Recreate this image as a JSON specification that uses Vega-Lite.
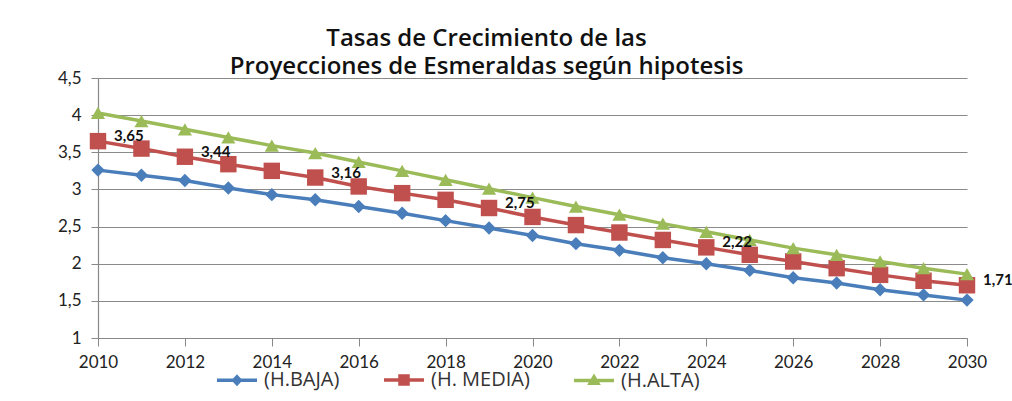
{
  "$schema": "https://vega.github.io/schema/vega-lite/v6.json",
  "width": 869,
  "height": 260,
  "autosize": {"type": "none"},
  "padding": {"left": 98, "top": 78, "right": 45, "bottom": 63},
  "background": "white",
  "title": {
    "text": ["Tasas  de Crecimiento de las", "Proyecciones de Esmeraldas según hipotesis"],
    "anchor": "middle",
    "dx": -46,
    "offset": -10,
    "font": "Open Sans",
    "fontSize": 24,
    "fontWeight": 600,
    "lineHeight": 28,
    "color": "#111"
  },
  "config": {
    "locale": {"number": {"decimal": ",", "thousands": ".", "grouping": [3], "currency": ["", "$"]}},
    "view": {"stroke": null},
    "font": "Lato"
  },
  "data": {
    "values": [
      {"year": 2010, "serie": "(H.BAJA)", "value": 3.26},
      {"year": 2011, "serie": "(H.BAJA)", "value": 3.19},
      {"year": 2012, "serie": "(H.BAJA)", "value": 3.12},
      {"year": 2013, "serie": "(H.BAJA)", "value": 3.02},
      {"year": 2014, "serie": "(H.BAJA)", "value": 2.93},
      {"year": 2015, "serie": "(H.BAJA)", "value": 2.86},
      {"year": 2016, "serie": "(H.BAJA)", "value": 2.77},
      {"year": 2017, "serie": "(H.BAJA)", "value": 2.68},
      {"year": 2018, "serie": "(H.BAJA)", "value": 2.58},
      {"year": 2019, "serie": "(H.BAJA)", "value": 2.48},
      {"year": 2020, "serie": "(H.BAJA)", "value": 2.38},
      {"year": 2021, "serie": "(H.BAJA)", "value": 2.27},
      {"year": 2022, "serie": "(H.BAJA)", "value": 2.18},
      {"year": 2023, "serie": "(H.BAJA)", "value": 2.08},
      {"year": 2024, "serie": "(H.BAJA)", "value": 2.00},
      {"year": 2025, "serie": "(H.BAJA)", "value": 1.91},
      {"year": 2026, "serie": "(H.BAJA)", "value": 1.81},
      {"year": 2027, "serie": "(H.BAJA)", "value": 1.74},
      {"year": 2028, "serie": "(H.BAJA)", "value": 1.65},
      {"year": 2029, "serie": "(H.BAJA)", "value": 1.58},
      {"year": 2030, "serie": "(H.BAJA)", "value": 1.51},
      {"year": 2010, "serie": "(H. MEDIA)", "value": 3.65, "lab": true},
      {"year": 2011, "serie": "(H. MEDIA)", "value": 3.55},
      {"year": 2012, "serie": "(H. MEDIA)", "value": 3.44, "lab": true},
      {"year": 2013, "serie": "(H. MEDIA)", "value": 3.34},
      {"year": 2014, "serie": "(H. MEDIA)", "value": 3.25},
      {"year": 2015, "serie": "(H. MEDIA)", "value": 3.16, "lab": true},
      {"year": 2016, "serie": "(H. MEDIA)", "value": 3.04},
      {"year": 2017, "serie": "(H. MEDIA)", "value": 2.95},
      {"year": 2018, "serie": "(H. MEDIA)", "value": 2.86},
      {"year": 2019, "serie": "(H. MEDIA)", "value": 2.75, "lab": true},
      {"year": 2020, "serie": "(H. MEDIA)", "value": 2.63},
      {"year": 2021, "serie": "(H. MEDIA)", "value": 2.52},
      {"year": 2022, "serie": "(H. MEDIA)", "value": 2.42},
      {"year": 2023, "serie": "(H. MEDIA)", "value": 2.32},
      {"year": 2024, "serie": "(H. MEDIA)", "value": 2.22, "lab": true},
      {"year": 2025, "serie": "(H. MEDIA)", "value": 2.12},
      {"year": 2026, "serie": "(H. MEDIA)", "value": 2.03},
      {"year": 2027, "serie": "(H. MEDIA)", "value": 1.94},
      {"year": 2028, "serie": "(H. MEDIA)", "value": 1.85},
      {"year": 2029, "serie": "(H. MEDIA)", "value": 1.77},
      {"year": 2030, "serie": "(H. MEDIA)", "value": 1.71, "lab": true},
      {"year": 2010, "serie": "(H.ALTA)", "value": 4.03},
      {"year": 2011, "serie": "(H.ALTA)", "value": 3.92},
      {"year": 2012, "serie": "(H.ALTA)", "value": 3.81},
      {"year": 2013, "serie": "(H.ALTA)", "value": 3.70},
      {"year": 2014, "serie": "(H.ALTA)", "value": 3.59},
      {"year": 2015, "serie": "(H.ALTA)", "value": 3.49},
      {"year": 2016, "serie": "(H.ALTA)", "value": 3.37},
      {"year": 2017, "serie": "(H.ALTA)", "value": 3.25},
      {"year": 2018, "serie": "(H.ALTA)", "value": 3.13},
      {"year": 2019, "serie": "(H.ALTA)", "value": 3.01},
      {"year": 2020, "serie": "(H.ALTA)", "value": 2.89},
      {"year": 2021, "serie": "(H.ALTA)", "value": 2.77},
      {"year": 2022, "serie": "(H.ALTA)", "value": 2.66},
      {"year": 2023, "serie": "(H.ALTA)", "value": 2.54},
      {"year": 2024, "serie": "(H.ALTA)", "value": 2.43},
      {"year": 2025, "serie": "(H.ALTA)", "value": 2.32},
      {"year": 2026, "serie": "(H.ALTA)", "value": 2.21},
      {"year": 2027, "serie": "(H.ALTA)", "value": 2.12},
      {"year": 2028, "serie": "(H.ALTA)", "value": 2.03},
      {"year": 2029, "serie": "(H.ALTA)", "value": 1.94},
      {"year": 2030, "serie": "(H.ALTA)", "value": 1.86}
    ]
  },
  "encoding": {
    "x": {
      "field": "year", "type": "quantitative",
      "scale": {"domain": [2010, 2030], "nice": false, "zero": false},
      "axis": {
        "title": null, "format": "d", "values": [2010, 2012, 2014, 2016, 2018, 2020, 2022, 2024, 2026, 2028, 2030],
        "grid": false, "domainColor": "#888", "domainWidth": 1.2, "tickColor": "#888", "tickSize": 8,
        "labelFont": "Lato", "labelFontSize": 17, "labelColor": "#222", "labelPadding": 8,
        "labelFlush": false
      }
    },
    "y": {
      "field": "value", "type": "quantitative",
      "scale": {"domain": [1, 4.5], "nice": false, "zero": false},
      "axis": {
        "title": null, "format": ".1~f", "values": [1, 1.5, 2, 2.5, 3, 3.5, 4, 4.5],
        "grid": true, "gridColor": "#8a8a8a", "gridWidth": 1.2,
        "domainColor": "#888", "domainWidth": 1.2, "tickColor": "#888", "tickSize": 7,
        "labelFont": "Lato", "labelFontSize": 17, "labelColor": "#222", "labelPadding": 10
      }
    },
    "color": {
      "field": "serie", "type": "nominal",
      "scale": {"domain": ["(H.BAJA)", "(H. MEDIA)", "(H.ALTA)"], "range": ["#4A7EBB", "#C0504D", "#9BBB59"]},
      "legend": {
        "title": null,
        "orient": "none",
        "direction": "horizontal",
        "legendX": 117,
        "legendY": 280,
        "symbolSize": 1600,
        "symbolStrokeWidth": 3.5,
        "labelFont": "Open Sans",
        "labelFontSize": 20,
        "labelColor": "#333",
        "labelOffset": 5,
        "columnPadding": 37,
        "encoding": {
          "symbols": {
            "shape": {
              "condition": [
                {"test": "datum.value == '(H.BAJA)'", "value": "M-1,0H1M0,-0.17L0.16,0L0,0.17L-0.16,0Z"},
                {"test": "datum.value == '(H. MEDIA)'", "value": "M-1,0H1M-0.2,-0.2H0.2V0.2H-0.2Z"}
              ],
              "value": "M-1,0H1M0,-0.18L0.19,0.14H-0.19Z"
            },
            "fill": {
              "condition": [
                {"test": "datum.value == '(H.BAJA)'", "value": "#4A7EBB"},
                {"test": "datum.value == '(H. MEDIA)'", "value": "#C0504D"}
              ],
              "value": "#9BBB59"
            },
            "size": {"value": 1600},
            "strokeWidth": {"value": 3.5},
            "opacity": {"value": 1}
          }
        }
      }
    }
  },
  "layer": [
    {
      "mark": {"type": "line", "strokeWidth": 3.5},
      "encoding": {}
    },
    {
      "transform": [{"filter": "datum.serie == '(H.BAJA)'"}],
      "mark": {"type": "point", "filled": true, "opacity": 1, "shape": "diamond", "size": 180},
      "encoding": {}
    },
    {
      "transform": [{"filter": "datum.serie == '(H. MEDIA)'"}],
      "mark": {"type": "point", "filled": true, "opacity": 1, "shape": "square", "size": 270},
      "encoding": {}
    },
    {
      "transform": [{"filter": "datum.serie == '(H.ALTA)'"}],
      "mark": {"type": "point", "filled": true, "opacity": 1, "shape": "triangle-up", "size": 200},
      "encoding": {}
    },
    {
      "transform": [{"filter": "datum.lab"}],
      "mark": {"type": "text", "align": "left", "baseline": "middle", "dx": 16, "dy": -5, "font": "Lato", "fontSize": 15, "fontWeight": "bold"},
      "encoding": {
        "text": {"field": "value", "type": "quantitative", "format": ".2f"},
        "color": {"value": "#111"}
      }
    }
  ]
}
